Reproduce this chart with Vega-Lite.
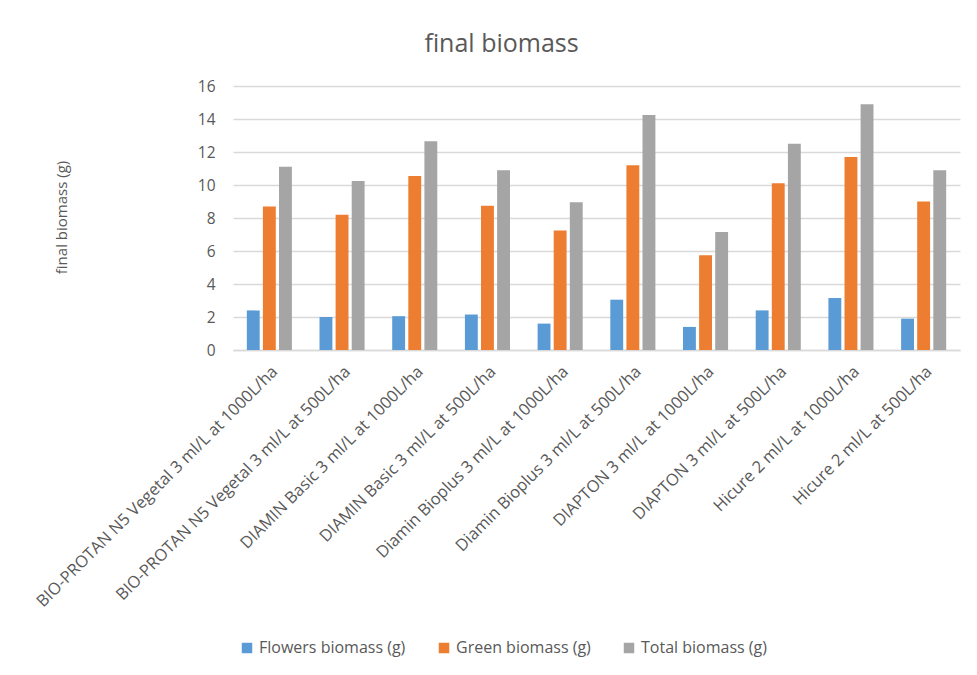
{
  "$schema": "https://vega.github.io/schema/vega-lite/v6.json",
  "width": 727,
  "height": 264,
  "autosize": "none",
  "padding": {"left": 233, "top": 86, "right": 17, "bottom": 325},
  "background": "white",
  "config": {"font": "Open Sans", "view": {"stroke": null}},
  "title": {"text": "final biomass", "fontSize": 25, "font": "Open Sans", "color": "#595959", "fontWeight": "normal", "dx": -95, "offset": 22},
  "data": {"values": [
    {"treatment": "BIO-PROTAN N5 Vegetal 3 ml/L at 1000L/ha", "series": "Flowers biomass (g)", "value": 2.4},
    {"treatment": "BIO-PROTAN N5 Vegetal 3 ml/L at 1000L/ha", "series": "Green biomass (g)", "value": 8.7},
    {"treatment": "BIO-PROTAN N5 Vegetal 3 ml/L at 1000L/ha", "series": "Total biomass (g)", "value": 11.1},
    {"treatment": "BIO-PROTAN N5 Vegetal 3 ml/L at 500L/ha", "series": "Flowers biomass (g)", "value": 2.0},
    {"treatment": "BIO-PROTAN N5 Vegetal 3 ml/L at 500L/ha", "series": "Green biomass (g)", "value": 8.2},
    {"treatment": "BIO-PROTAN N5 Vegetal 3 ml/L at 500L/ha", "series": "Total biomass (g)", "value": 10.25},
    {"treatment": "DIAMIN Basic 3 ml/L at 1000L/ha", "series": "Flowers biomass (g)", "value": 2.05},
    {"treatment": "DIAMIN Basic 3 ml/L at 1000L/ha", "series": "Green biomass (g)", "value": 10.55},
    {"treatment": "DIAMIN Basic 3 ml/L at 1000L/ha", "series": "Total biomass (g)", "value": 12.65},
    {"treatment": "DIAMIN Basic 3 ml/L at 500L/ha", "series": "Flowers biomass (g)", "value": 2.15},
    {"treatment": "DIAMIN Basic 3 ml/L at 500L/ha", "series": "Green biomass (g)", "value": 8.75},
    {"treatment": "DIAMIN Basic 3 ml/L at 500L/ha", "series": "Total biomass (g)", "value": 10.9},
    {"treatment": "Diamin Bioplus 3 ml/L at 1000L/ha", "series": "Flowers biomass (g)", "value": 1.6},
    {"treatment": "Diamin Bioplus 3 ml/L at 1000L/ha", "series": "Green biomass (g)", "value": 7.25},
    {"treatment": "Diamin Bioplus 3 ml/L at 1000L/ha", "series": "Total biomass (g)", "value": 8.95},
    {"treatment": "Diamin Bioplus 3 ml/L at 500L/ha", "series": "Flowers biomass (g)", "value": 3.05},
    {"treatment": "Diamin Bioplus 3 ml/L at 500L/ha", "series": "Green biomass (g)", "value": 11.2},
    {"treatment": "Diamin Bioplus 3 ml/L at 500L/ha", "series": "Total biomass (g)", "value": 14.25},
    {"treatment": "DIAPTON 3 ml/L at 1000L/ha", "series": "Flowers biomass (g)", "value": 1.4},
    {"treatment": "DIAPTON 3 ml/L at 1000L/ha", "series": "Green biomass (g)", "value": 5.75},
    {"treatment": "DIAPTON 3 ml/L at 1000L/ha", "series": "Total biomass (g)", "value": 7.15},
    {"treatment": "DIAPTON 3 ml/L at 500L/ha", "series": "Flowers biomass (g)", "value": 2.4},
    {"treatment": "DIAPTON 3 ml/L at 500L/ha", "series": "Green biomass (g)", "value": 10.1},
    {"treatment": "DIAPTON 3 ml/L at 500L/ha", "series": "Total biomass (g)", "value": 12.5},
    {"treatment": "Hicure 2 ml/L at 1000L/ha", "series": "Flowers biomass (g)", "value": 3.15},
    {"treatment": "Hicure 2 ml/L at 1000L/ha", "series": "Green biomass (g)", "value": 11.7},
    {"treatment": "Hicure 2 ml/L at 1000L/ha", "series": "Total biomass (g)", "value": 14.9},
    {"treatment": "Hicure 2 ml/L at 500L/ha", "series": "Flowers biomass (g)", "value": 1.9},
    {"treatment": "Hicure 2 ml/L at 500L/ha", "series": "Green biomass (g)", "value": 9.0},
    {"treatment": "Hicure 2 ml/L at 500L/ha", "series": "Total biomass (g)", "value": 10.9}
  ]},
  "mark": {"type": "bar"},
  "encoding": {
    "x": {
      "field": "treatment", "type": "nominal", "sort": null,
      "scale": {"paddingInner": 0.38, "paddingOuter": 0.19},
      "axis": {"title": null, "labelAngle": -45, "labelFontSize": 16.5, "labelColor": "#595959", "domainColor": "#D9D9D9", "domainWidth": 1.5, "ticks": false, "labelPadding": 13, "labelLimit": 500}
    },
    "xOffset": {"field": "series", "type": "nominal", "sort": null, "scale": {"paddingInner": 0.2, "paddingOuter": 0}},
    "y": {
      "field": "value", "type": "quantitative",
      "scale": {"domain": [0, 16], "nice": false},
      "axis": {"title": "final biomass (g)", "titleFontSize": 15, "titleFontWeight": "normal", "titleColor": "#595959", "titleX": -172, "titleY": 131, "titleAngle": -90, "titleAlign": "center", "titleBaseline": "middle",
        "values": [0, 2, 4, 6, 8, 10, 12, 14, 16], "domain": false, "ticks": false, "gridColor": "#D9D9D9", "gridWidth": 1.3, "labelFontSize": 15.5, "labelColor": "#595959", "labelPadding": 18}
    },
    "color": {
      "field": "series", "type": "nominal",
      "scale": {"domain": ["Flowers biomass (g)", "Green biomass (g)", "Total biomass (g)"], "range": ["#5B9BD5", "#ED7D31", "#A5A5A5"]},
      "legend": {"orient": "none", "legendX": 6, "legendY": 554, "direction": "horizontal", "title": null, "symbolType": "square", "symbolSize": 110, "symbolStrokeWidth": 0, "labelFontSize": 16, "labelColor": "#595959", "columnPadding": 30, "labelOffset": 4}
    }
  }
}
